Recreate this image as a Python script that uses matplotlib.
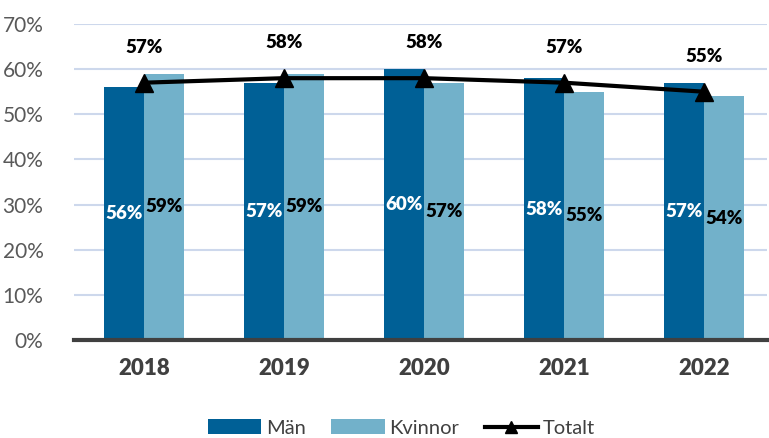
import matplotlib.pyplot as plt
import numpy as np

plt.rcParams['font.family'] = ['Lato', 'DejaVu Sans']

years = ["2018", "2019", "2020", "2021", "2022"]
man = [56, 57, 60, 58, 57]
kvinnor = [59, 59, 57, 55, 54]
totalt = [57, 58, 58, 57, 55]

dark = "#006096"
light = "#72B1CA"

fig = plt.figure(figsize=(7.69, 4.38), dpi=100)
ax = fig.add_axes([74 / 769, (438 - 340) / 438, (767 - 74) / 769, 316 / 438])

x = np.arange(len(years))
w = 40 / 140
b1 = ax.bar(x - w / 2, man, w, color=dark, label="Män", zorder=2)
b2 = ax.bar(x + w / 2, kvinnor, w, color=light, label="Kvinnor", zorder=2)
ax.plot(x, totalt, color="black", lw=3, marker="^", ms=13, label="Totalt", zorder=4)

for xi, v in zip(x, man):
    ax.text(xi - w / 2, v / 2, f"{v}%", ha="center", va="center", color="white",
            fontsize=13.5, fontweight="heavy", zorder=5)
for xi, v in zip(x, kvinnor):
    ax.text(xi + w / 2, v / 2, f"{v}%", ha="center", va="center", color="black",
            fontsize=13.5, fontweight="heavy", zorder=5)
for xi, v in zip(x, totalt):
    ax.text(xi, v + 7.8, f"{v}%", ha="center", va="center", color="black",
            fontsize=13.5, fontweight="heavy", zorder=5)

ax.set_ylim(0, 70)
ax.set_xlim(-0.5, -0.5 + 693 / 140)
ax.set_yticks(range(0, 71, 10))
ax.set_yticklabels([f"{t}%" for t in range(0, 71, 10)], fontsize=15, color="#595959")
ax.set_xticks(x)
ax.set_xticklabels(years, fontsize=16, fontweight="heavy", color="#404040")
ax.tick_params(axis="both", length=0)
ax.tick_params(axis="x", pad=13)
ax.tick_params(axis="y", pad=22)

ax.grid(axis="y", color="#CDD8EC", lw=1.5, zorder=0)
for s in ["top", "right", "left"]:
    ax.spines[s].set_visible(False)
ax.spines["bottom"].set_color("#404040")
ax.spines["bottom"].set_linewidth(3)
ax.spines["bottom"].set_zorder(3)

legend_line = plt.Line2D([], [], color="black", lw=3, marker="^", ms=9)
leg = fig.legend([b1, b2, legend_line], ["Män", "Kvinnor", "Totalt"],
                 loc="center", bbox_to_anchor=(0.522, 10 / 438), ncol=3,
                 frameon=False, fontsize=14.5, handlelength=2.65, handleheight=0.75,
                 columnspacing=1.25, handletextpad=0.25)
for t in leg.get_texts():
    t.set_color("#404040")

fig.savefig("out.png", dpi=100)
